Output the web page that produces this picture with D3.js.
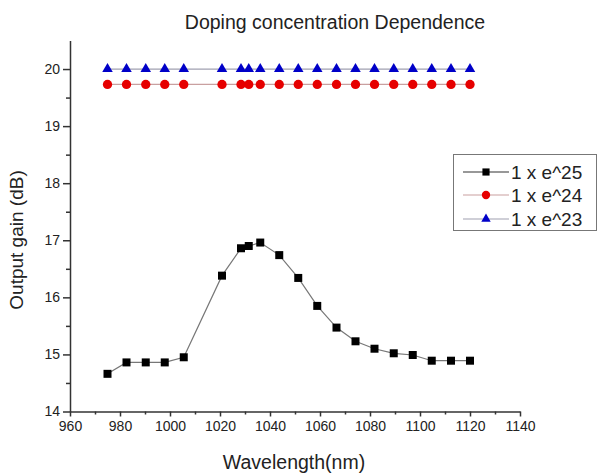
<!DOCTYPE html>
<html>
<head>
<meta charset="utf-8">
<script src="https://cdn.jsdelivr.net/npm/d3@7"></script>
<style>
  body { margin: 0; background: #fff; }
  text { font-family: "Liberation Sans", Arial, sans-serif; fill: #222; }
</style>
</head>
<body>
<script>
// wavelengths (nm), shared by all three series
const wavelength = [975, 982.6, 990.3, 997.9, 1005.5, 1020.8, 1028.4, 1031.5, 1036.1, 1043.7,
                    1051.3, 1058.9, 1066.6, 1074.2, 1081.8, 1089.5, 1097.1, 1104.7, 1112.4, 1120];
// output gain (dB) for each doping concentration
const gain25 = [14.66, 14.86, 14.86, 14.86, 14.95, 16.38, 16.86, 16.90, 16.96, 16.74,
                16.34, 15.85, 15.47, 15.23, 15.10, 15.02, 14.99, 14.89, 14.89, 14.89];
const gain24 = [19.73, 19.73, 19.73, 19.73, 19.73, 19.73, 19.73, 19.73, 19.73, 19.73,
                19.73, 19.73, 19.73, 19.73, 19.73, 19.73, 19.73, 19.73, 19.73, 19.73];
const gain23 = [20, 20, 20, 20, 20, 20, 20, 20, 20, 20,
                20, 20, 20, 20, 20, 20, 20, 20, 20, 20];
const seriesNames = ["1 x e^25", "1 x e^24", "1 x e^23"];
const xTicks = [960, 980, 1000, 1020, 1040, 1060, 1080, 1100, 1120, 1140];
const yTicks = [14, 15, 16, 17, 18, 19, 20];

window.onload = function() {
  const w = 599;
  const h = 475;

  let svg = d3.select("body")
            .append("svg")
            .attr("width", w)
            .attr("height", h);

  // scales
  let xScale = d3.scaleLinear()
            .domain([960, 1140])
            .range([70, 520]);
  let yScale = d3.scaleLinear()
            .domain([14, 20.5])
            .range([411.5, 40.5]);

  // minor ticks first so the major ones draw on top
  svg.append("g")
     .attr("transform", "translate(0,411.5)")
     .call(d3.axisBottom(xScale).tickValues(d3.range(970, 1140, 20)).tickSize(3).tickFormat(""))
     .call(g => g.select(".domain").remove());
  svg.append("g")
     .attr("transform", "translate(70,0)")
     .call(d3.axisLeft(yScale).tickValues(d3.range(14.5, 20.5, 1)).tickSize(4).tickFormat(""))
     .call(g => g.select(".domain").remove());

  let xAxis = svg.append("g")
     .attr("class", "axis")
     .attr("transform", "translate(0,411.5)")
     .call(d3.axisBottom(xScale).tickValues(xTicks).tickFormat(d3.format("d")).tickSize(5).tickSizeOuter(0));
  let yAxis = svg.append("g")
     .attr("class", "axis")
     .attr("transform", "translate(70,0)")
     .call(d3.axisLeft(yScale).tickValues(yTicks).tickFormat(d3.format("d")).tickSize(7).tickSizeOuter(0));

  svg.selectAll("path.domain, .tick line")
     .attr("stroke", "#333")
     .attr("stroke-width", 1.5);
  xAxis.selectAll("text")
     .attr("font-size", 14)
     .attr("fill", "#333")
     .attr("y", 10)
     .attr("dy", "0.71em");
  yAxis.selectAll("text")
     .attr("font-size", 14)
     .attr("fill", "#333")
     .attr("x", -10);

  // title and axis labels
  svg.append("text")
     .attr("x", 335)
     .attr("y", 29)
     .attr("text-anchor", "middle")
     .attr("font-size", 19.5)
     .text("Doping concentration Dependence");
  svg.append("text")
     .attr("x", 294)
     .attr("y", 469)
     .attr("text-anchor", "middle")
     .attr("font-size", 19.5)
     .text("Wavelength(nm)");
  svg.append("text")
     .attr("transform", "translate(23,240) rotate(-90)")
     .attr("text-anchor", "middle")
     .attr("font-size", 19)
     .text("Output gain (dB)");

  const series = [
    { name: seriesNames[0], values: gain25, color: "#000", line: "#777", shape: d3.symbolSquare, size: 64 },
    { name: seriesNames[1], values: gain24, color: "#e60000", line: "#c9a0a0", shape: d3.symbolCircle, size: 68 },
    { name: seriesNames[2], values: gain23, color: "#0000c8", line: "#a0a0b0", shape: d3.symbolTriangle, size: 48 }
  ];

  let line = d3.line()
            .x(function(d) { return xScale(d[0]) })
            .y(function(d) { return yScale(d[1]) });

  // draw the blue series first, black last
  series.slice().reverse().forEach(function(s) {
    const pts = wavelength.map(function(x, i) { return [x, s.values[i]] });
    svg.append("path")
       .datum(pts)
       .attr("fill", "none")
       .attr("stroke", s.line)
       .attr("stroke-width", 1.2)
       .attr("d", line);
    svg.append("g")
       .selectAll("path")
       .data(pts)
       .enter()
       .append("path")
       .attr("transform", function(d) { return "translate(" + xScale(d[0]) + "," + yScale(d[1]) + ")" })
       .attr("d", d3.symbol().type(s.shape).size(s.size))
       .attr("fill", s.color);
  });

  // legend
  let legend = svg.append("g")
     .attr("class", "legend");
  legend.append("rect")
        .attr("x", 453.5)
        .attr("y", 154.5)
        .attr("width", 143)
        .attr("height", 76)
        .attr("fill", "#fff")
        .attr("stroke", "#777")
        .attr("stroke-width", 1);
  const rowY = [172, 195, 219];
  series.forEach(function(s, i) {
    legend.append("line")
          .attr("x1", 463)
          .attr("x2", 509)
          .attr("y1", rowY[i])
          .attr("y2", rowY[i])
          .attr("stroke", s.line === "#777" ? "#333" : s.line)
          .attr("stroke-width", 1.2);
    legend.append("path")
          .attr("transform", "translate(486," + rowY[i] + ")")
          .attr("d", d3.symbol().type(s.shape).size(s.size * 0.8))
          .attr("fill", s.color);
    legend.append("text")
          .attr("x", 511)
          .attr("y", rowY[i])
          .attr("dy", "0.35em")
          .attr("font-size", 19)
          .text(s.name);
  });
};
</script>
</body>
</html>
